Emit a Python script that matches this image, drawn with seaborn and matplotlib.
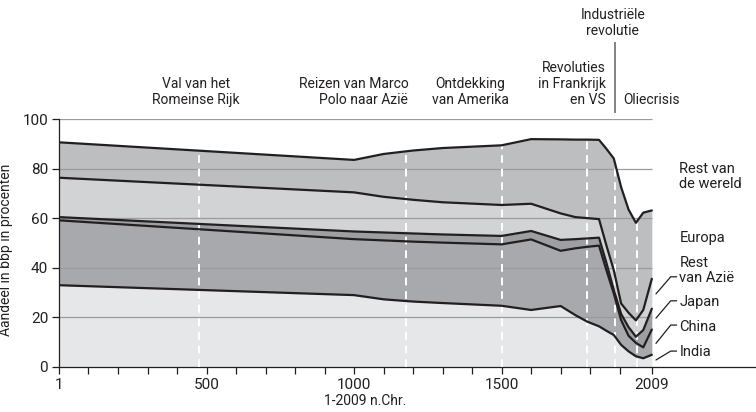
import numpy as np
import pandas as pd
import matplotlib
matplotlib.use("Agg")
import matplotlib.pyplot as plt
import seaborn as sns

# Aandeel in wereld-bbp (procenten)
jaren = [1, 1000, 1100, 1200, 1300, 1500, 1600, 1700, 1750, 1790, 1830, 1855, 1880, 1905, 1930, 1955, 1980, 2009]
india = [32.9, 28.9, 27.2, 26.3, 25.7, 24.6, 22.9, 24.5, 20.8, 18.2, 16.3, 14.5, 12.8, 8.8, 6.2, 4.2, 3.4, 4.8]
china = [26.2, 22.6, 23.8, 24.2, 24.4, 24.8, 28.5, 22.3, 27.0, 30.2, 32.6, 24.5, 16.8, 10.0, 6.3, 5.4, 4.4, 10.2]
japan = [1.3, 3.1, 3.2, 3.3, 3.3, 3.4, 3.4, 4.4, 3.7, 3.4, 3.2, 3.0, 1.4, 2.5, 3.5, 2.5, 7.0, 8.4]
rest_azie = [15.9, 15.8, 14.4, 13.6, 13.0, 12.5, 11.0, 10.7, 8.9, 8.2, 7.5, 7.0, 8.0, 4.2, 5.8, 6.6, 8.1, 12.1]
europa = [14.3, 13.1, 17.3, 19.9, 21.9, 24.1, 26.1, 29.9, 31.3, 31.7, 32.0, 39.0, 45.1, 47.0, 41.7, 39.4, 39.3, 27.6]

regios = ["India", "China", "Japan", "Rest van Azië", "Europa"]
kleuren = ["#e6e7e8", "#a7a9ac", "#9d9fa2", "#d1d3d4", "#bcbec0"]

# gebeurtenissen (witte stippellijnen)
gebeurtenis_jaren = [476, 1175, 1500, 1789, 1885, 1960]

xticks_major = [1, 500, 1000, 1500, 2009]
xticks_minor = [j for j in range(100, 2000, 100) if j not in (500, 1000, 1500)]
yticks = [0, 20, 40, 60, 80, 100]

tekst = "#231f20"

sns.set_style("white")
plt.rcParams["font.family"] = ["Roboto", "DejaVu Sans"]

df = pd.DataFrame({"jaar": jaren, "India": india, "China": china, "Japan": japan,
                   "Rest van Azië": rest_azie, "Europa": europa})
cum = df[regios].cumsum(axis=1)

fig = plt.figure(figsize=(7.56, 4.12), dpi=100)
ax = fig.add_axes([0.0784, 0.110, 0.9216, 0.601])

onder = np.zeros(len(jaren))
for regio, kleur in zip(regios, kleuren):
    boven = cum[regio].values
    ax.fill_between(df["jaar"], onder, boven, color=kleur, lw=0, zorder=1)
    onder = boven

# rasterlijnen tot 2009
ax.hlines(yticks[1:], 1, 2009, colors="#9b9b9b", lw=0.9, zorder=2)

# witte stippellijnen tot aan de bovenrand
top = cum["Europa"].values
for j in gebeurtenis_jaren:
    ax.vlines(j, 0, np.interp(j, jaren, top), colors="white", lw=1.4,
              linestyles=(0, (4, 3)), zorder=3)

lang = cum.assign(jaar=df["jaar"]).melt(id_vars="jaar", var_name="regio", value_name="grens")
sns.lineplot(data=lang, x="jaar", y="grens", hue="regio", palette=[tekst] * 5,
             legend=False, lw=1.6, ax=ax, zorder=4, sort=False, estimator=None)

ax.set_xlim(1, 2362)
ax.set_ylim(0, 100)
ax.set_xticks(xticks_major)
ax.set_xticklabels([str(t) for t in xticks_major])
ax.set_xticks(xticks_minor, minor=True)
ax.set_yticks(yticks)
ax.tick_params(which="both", bottom=True, left=True, direction="out", length=5,
               width=0.9, color=tekst, labelcolor=tekst, labelsize=11, pad=3)
for s in ["top", "right"]:
    ax.spines[s].set_visible(False)
for s in ["left", "bottom"]:
    ax.spines[s].set_color(tekst)
    ax.spines[s].set_linewidth(0.9)

ax.set_xlabel("1-2009 n.Chr.", fontsize=10, color=tekst)
ax.xaxis.set_label_coords(0.439, -0.11)
ax.set_ylabel("Aandeel in bbp in procenten", fontsize=10, color=tekst)
ax.yaxis.set_label_coords(-0.0665, 0.471)

# gebeurtenisteksten boven de grafiek
kw = dict(fontsize=10, color=tekst, va="center", linespacing=1.2, clip_on=False)
ax.text(464, 110.8, "Val van het\nRomeinse Rijk", ha="center", multialignment="center", **kw)
ax.text(1184, 110.8, "Reizen van Marco\nPolo naar Azië", ha="right", multialignment="right", **kw)
ax.text(1393, 110.8, "Ontdekking\nvan Amerika", ha="center", multialignment="center", **kw)
ax.text(1854, 114.2, "Revoluties\nin Frankrijk\nen VS", ha="right", multialignment="right", **kw)
ax.text(1877, 138.8, "Industriële\nrevolutie", ha="center", multialignment="center", **kw)
ax.text(1912, 107.7, "Oliecrisis", ha="left", **kw)
ax.vlines(1885, 102.3, 131.2, colors="#6d6e71", lw=1.2, clip_on=False)

# labels rechts
rkw = dict(fontsize=10.5, color=tekst, va="center", ha="left", linespacing=1.1)
ax.text(2102, 76.8, "Rest van\nde wereld", **rkw)
ax.text(2102, 52.1, "Europa", **rkw)
ax.text(2102, 38.7, "Rest\nvan Azië", **rkw)
ax.text(2102, 26.2, "Japan", **rkw)
ax.text(2102, 15.9, "China", **rkw)
ax.text(2102, 6.1, "India", **rkw)

leader_start = [29.4, 19.6, 9.4, 2.7]
leader_eind = [36.3, 26.6, 16.8, 6.3]
for y0, y1 in zip(leader_start, leader_eind):
    ax.plot([2023, 2073, 2093], [y0, y1, y1], color=tekst, lw=0.9, zorder=5)

fig.savefig("out.png", dpi=100)
